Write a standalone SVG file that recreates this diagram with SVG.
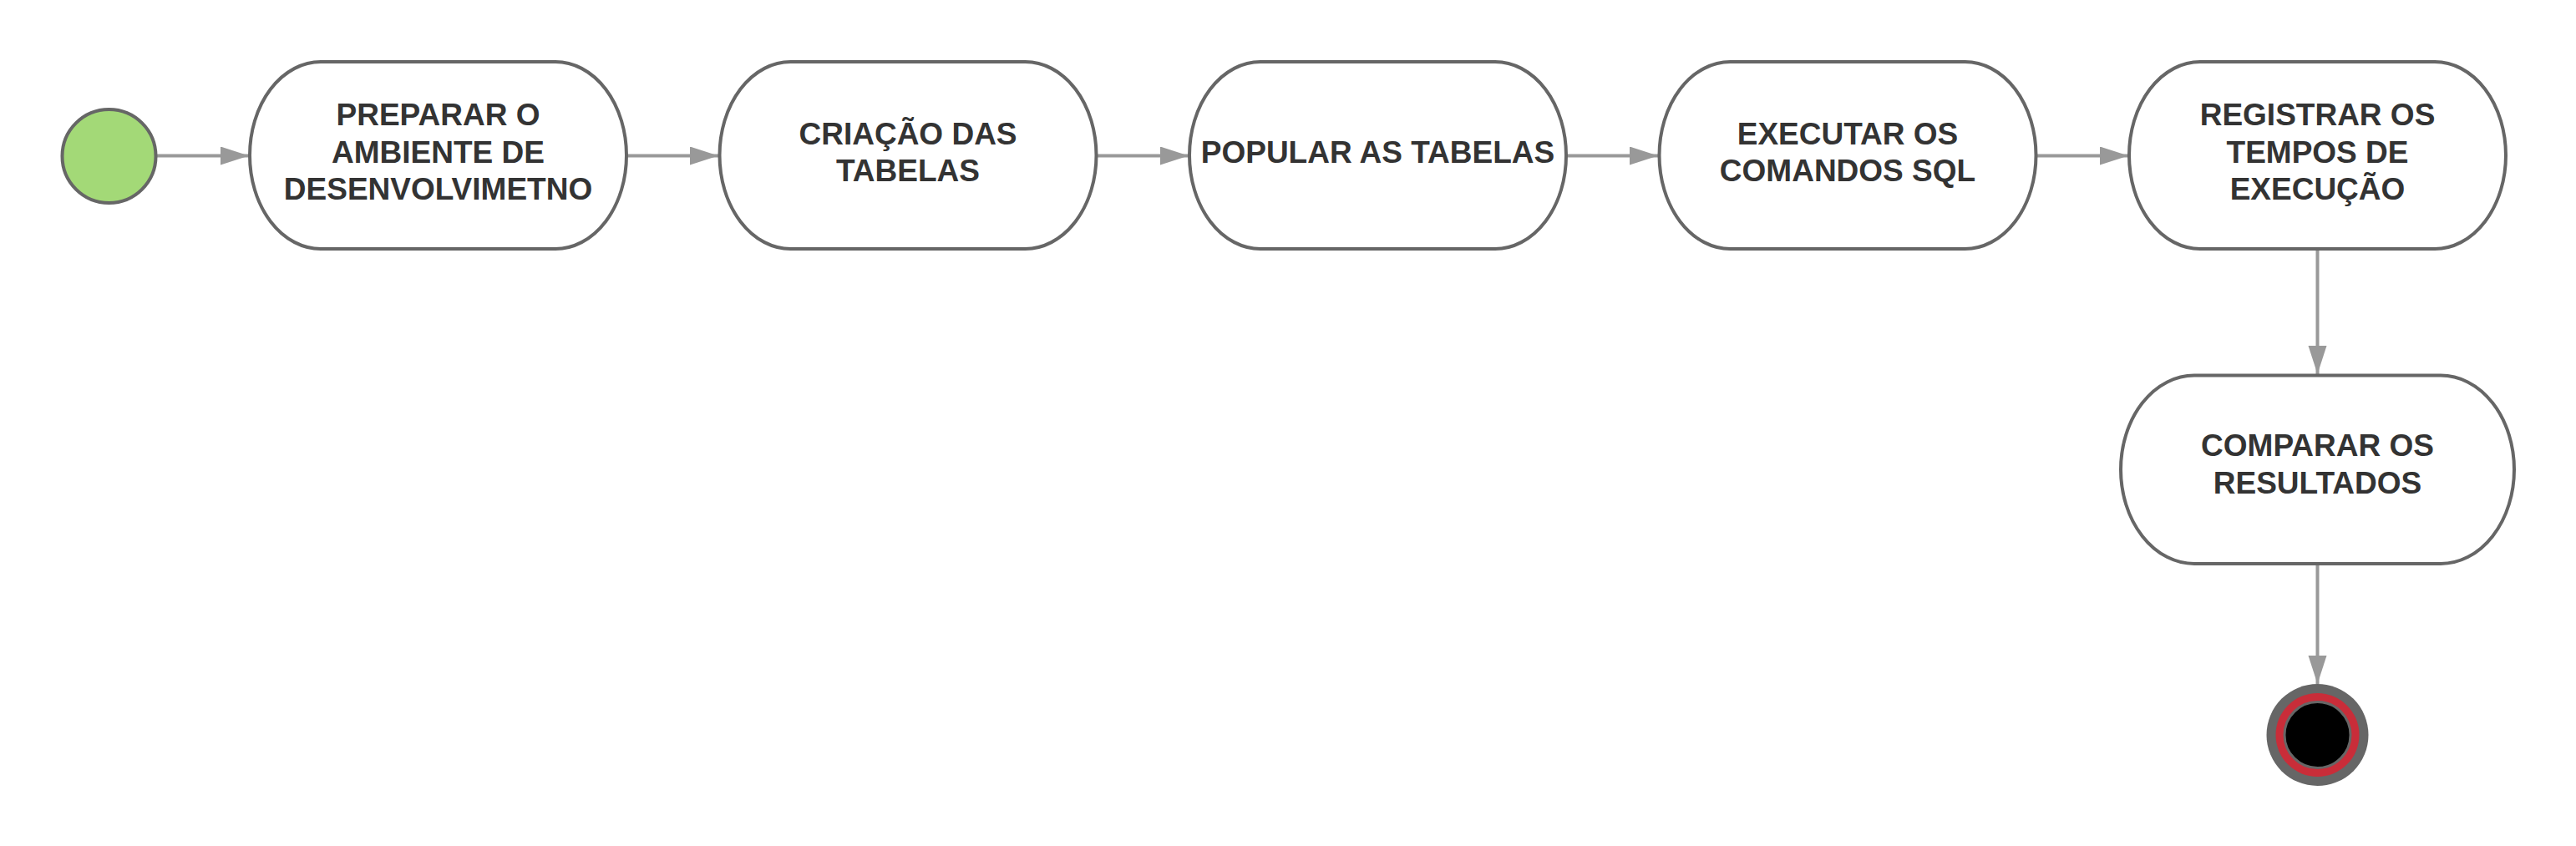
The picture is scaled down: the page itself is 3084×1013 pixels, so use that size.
<svg xmlns="http://www.w3.org/2000/svg" width="3084" height="1013" viewBox="0 0 3084 1013">
<style>
.node{fill:#ffffff;stroke:#666666;stroke-width:4}
.lbl{font-family:"Liberation Sans",Arial,sans-serif;font-weight:bold;font-size:37px;fill:#333333;text-anchor:middle}
.conn{stroke:#999999;stroke-width:4;fill:none;marker-end:url(#arr)}
</style>
<defs>
<marker id="arr" markerUnits="userSpaceOnUse" markerWidth="36" markerHeight="24" refX="34" refY="11" orient="auto">
<path d="M0,0 L34,11 L0,22 Z" fill="#999999"/>
</marker>
</defs>
<rect width="3084" height="1013" fill="#ffffff"/>
<g id="connectors">
<line class="conn" x1="188" y1="186.5" x2="298" y2="186.5"/>
<line class="conn" x1="751" y1="186.5" x2="860" y2="186.5"/>
<line class="conn" x1="1313" y1="186.5" x2="1423" y2="186.5"/>
<line class="conn" x1="1875" y1="186.5" x2="1985" y2="186.5"/>
<line class="conn" x1="2438" y1="186.5" x2="2548" y2="186.5"/>
<line class="conn" x1="2774.5" y1="299" x2="2774.5" y2="448"/>
<line class="conn" x1="2774.5" y1="676" x2="2774.5" y2="819"/>
</g>
<g id="start">
<circle cx="130.5" cy="187" r="56" fill="#a3d977" stroke="#666666" stroke-width="4"/>
</g>
<g id="n1">
<rect class="node" x="299" y="74" width="451" height="224" rx="85" ry="112"/>
<text class="lbl" x="524.5" y="150">PREPARAR O</text>
<text class="lbl" x="524.5" y="194.5">AMBIENTE DE</text>
<text class="lbl" x="524.5" y="239">DESENVOLVIMETNO</text>
</g>
<g id="n2">
<rect class="node" x="861.5" y="74" width="451" height="224" rx="85" ry="112"/>
<text class="lbl" x="1087" y="172.5">CRIAÇÃO DAS</text>
<text class="lbl" x="1087" y="217">TABELAS</text>
</g>
<g id="n3">
<rect class="node" x="1424" y="74" width="451" height="224" rx="85" ry="112"/>
<text class="lbl" x="1649.5" y="195">POPULAR AS TABELAS</text>
</g>
<g id="n4">
<rect class="node" x="1986.5" y="74" width="451" height="224" rx="85" ry="112"/>
<text class="lbl" x="2212" y="172.5">EXECUTAR OS</text>
<text class="lbl" x="2212" y="217">COMANDOS SQL</text>
</g>
<g id="n5">
<rect class="node" x="2549" y="74" width="451" height="224" rx="85" ry="112"/>
<text class="lbl" x="2774.5" y="150">REGISTRAR OS</text>
<text class="lbl" x="2774.5" y="194.5">TEMPOS DE</text>
<text class="lbl" x="2774.5" y="239">EXECUÇÃO</text>
</g>
<g id="n6">
<rect class="node" x="2539" y="449.5" width="471" height="225.5" rx="88" ry="112.75"/>
<text class="lbl" x="2774.5" y="546">COMPARAR OS</text>
<text class="lbl" x="2774.5" y="591">RESULTADOS</text>
</g>
<g id="end">
<circle cx="2774.5" cy="880" r="61" fill="#666666"/>
<circle cx="2774.5" cy="880" r="50" fill="#c92d39"/>
<circle cx="2774.5" cy="880" r="39.5" fill="#000000" stroke="#666666" stroke-width="3"/>
</g>
</svg>
